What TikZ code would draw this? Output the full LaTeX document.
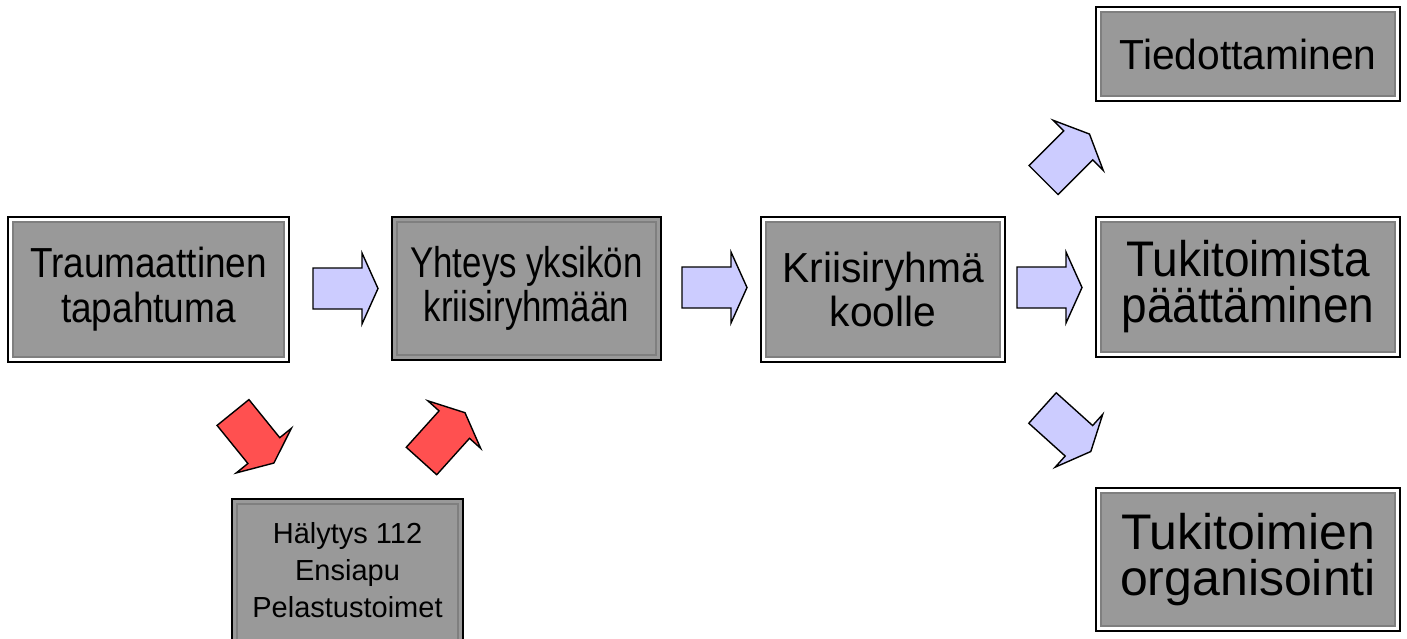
\documentclass[tikz,border=0pt]{standalone}
\usepackage{fontspec}
\setmainfont{Liberation Sans}
\newfontfamily\fTrauma[FakeStretch=0.88]{Liberation Sans}
\newfontfamily\fYht[FakeStretch=0.81]{Liberation Sans}
\newfontfamily\fKrii[FakeStretch=0.97]{Liberation Sans}
\newfontfamily\fTuki[FakeStretch=0.92]{Liberation Sans}
\definecolor{boxgray}{HTML}{999999}
\definecolor{bevel}{HTML}{7F7F7F}
\definecolor{lav}{HTML}{CCCCFF}
\definecolor{redarr}{HTML}{FF5050}
\begin{document}
\begin{tikzpicture}[x=1pt,y=-1pt,
  frame/.style={draw=black, line width=1.5pt, fill=white, inner sep=0pt, outer sep=0pt},
  graybox/.style={draw=bevel, line width=2pt, fill=boxgray, inner sep=0pt, outer sep=0pt, align=center, text=black},
  singlebox/.style={draw=black, line width=1.5pt, fill=boxgray, inner sep=0pt, outer sep=0pt},
  bevelin/.style={draw=bevel, line width=2pt, inner sep=0pt, outer sep=0pt, align=center, text=black},
  lavarrow/.style={fill=lav, draw=black, line width=1.4pt, line join=miter},
  redarrow/.style={fill=redarr, draw=black, line width=1.4pt, line join=miter},
  pics/blockarrow/.style={code={
    \draw[pic actions] (0,-20.5) -- (49,-20.5) -- (49,-35.5) -- (65,0) -- (49,35.5) -- (49,20.5) -- (0,20.5) -- cycle;
  }}
]
\useasboundingbox[fill=white] (0,0) rectangle (1407,638);

% Traumaattinen tapahtuma
\node[frame, minimum width=281pt, minimum height=145pt] (traumaF) at (148.5,289.5) {};
\node[graybox, minimum width=271pt, minimum height=135pt,
  font={\fTrauma\fontsize{42}{45}\selectfont}] (trauma) at (traumaF.center)
  {Traumaattinen\\tapahtuma};

% Yhteys yksikön kriisiryhmään
\node[singlebox, minimum width=269pt, minimum height=143pt] (yhteysF) at (526.5,288.5) {};
\node[bevelin, minimum width=259pt, minimum height=133pt,
  font={\fYht\fontsize{43}{44}\selectfont}] (yhteys) at (yhteysF.center)
  {Yhteys yksikön\\kriisiryhmään};

% Kriisiryhmä koolle
\node[frame, minimum width=244pt, minimum height=145pt] (kriisiF) at (883,289.5) {};
\node[graybox, minimum width=234pt, minimum height=135pt,
  font={\fKrii\fontsize{42}{44}\selectfont}] (kriisi) at (kriisiF.center)
  {Kriisiryhmä\\koolle};

% Tiedottaminen
\node[frame, minimum width=304pt, minimum height=94pt] (tiedF) at (1248,54) {};
\node[graybox, minimum width=294pt, minimum height=84pt,
  font={\fKrii\fontsize{42}{44}\selectfont}] (tied) at (tiedF.center)
  {Tiedottaminen};

% Tukitoimista päättäminen
\node[frame, minimum width=304pt, minimum height=140pt] (paatF) at (1248,287) {};
\node[graybox, minimum width=294pt, minimum height=130pt,
  font={\fTuki\fontsize{50}{46}\selectfont}] (paat) at (paatF.center)
  {Tukitoimista\\päättäminen};

% Tukitoimien organisointi
\node[frame, minimum width=304pt, minimum height=143pt] (orgF) at (1248,559.5) {};
\node[graybox, minimum width=294pt, minimum height=133pt,
  font={\fontsize{50}{46}\selectfont}] (org) at (orgF.center)
  {Tukitoimien\\organisointi};

% Hälytys 112
\node[singlebox, minimum width=231pt, minimum height=146pt] (halyF) at (347.5,572) {};
\node[bevelin, minimum width=221pt, minimum height=136pt] (halyB) at (halyF.center) {};
\node[align=center, inner sep=0pt, font={\fontsize{29}{37}\selectfont}] (haly) at (347.5,570)
  {Hälytys 112\\Ensiapu\\Pelastustoimet};

% block arrows
\pic[lavarrow] at (313,288.5) {blockarrow};
\pic[lavarrow] at (682,287.5) {blockarrow};
\pic[lavarrow] at (1017,287.5) {blockarrow};
\pic[lavarrow, rotate=45] at (1043.5,180) {blockarrow};
\pic[lavarrow, rotate=-42] at (1042.5,408) {blockarrow};
\pic[redarrow, rotate=-51] at (233,412.5) {blockarrow};
\pic[redarrow, rotate=48] at (421.5,461) {blockarrow};
\end{tikzpicture}
\end{document}
